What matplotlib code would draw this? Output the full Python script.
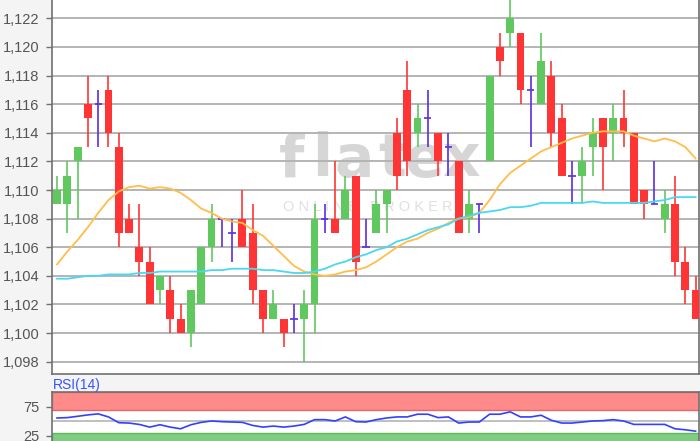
import matplotlib
matplotlib.use("Agg")
import matplotlib.pyplot as plt
from matplotlib.ticker import FuncFormatter

# candle data (EUR/USD style quotes)
opens = [1.109, 1.109, 1.112, 1.116, 1.116, 1.117, 1.113, 1.108, 1.106, 1.105,
         1.103, 1.103, 1.101, 1.100, 1.102, 1.106, 1.108, 1.107, 1.108, 1.107,
         1.103, 1.101, 1.101, 1.101, 1.101, 1.102, 1.108, 1.108, 1.108, 1.111,
         1.106, 1.107, 1.109, 1.114, 1.117, 1.114, 1.115, 1.114, 1.113, 1.112,
         1.108, 1.109, 1.112, 1.120, 1.121, 1.121, 1.117, 1.116, 1.118, 1.115,
         1.111, 1.111, 1.113, 1.115, 1.114, 1.115, 1.114, 1.110, 1.109, 1.108,
         1.109, 1.105, 1.103]
highs = [1.111, 1.112, 1.113, 1.118, 1.117, 1.118, 1.114, 1.109, 1.109, 1.106,
         1.104, 1.104, 1.102, 1.103, 1.106, 1.109, 1.108, 1.108, 1.110, 1.109,
         1.103, 1.103, 1.101, 1.102, 1.103, 1.109, 1.109, 1.112, 1.111, 1.111,
         1.108, 1.110, 1.110, 1.115, 1.119, 1.116, 1.117, 1.114, 1.114, 1.112,
         1.110, 1.109, 1.118, 1.121, 1.1235, 1.121, 1.118, 1.121, 1.119, 1.116,
         1.112, 1.113, 1.115, 1.115, 1.116, 1.117, 1.114, 1.110, 1.112, 1.110,
         1.111, 1.106, 1.104]
lows = [1.109, 1.107, 1.108, 1.113, 1.113, 1.113, 1.106, 1.107, 1.104, 1.102,
        1.102, 1.100, 1.100, 1.099, 1.102, 1.105, 1.106, 1.105, 1.106, 1.102,
        1.100, 1.101, 1.099, 1.100, 1.098, 1.100, 1.107, 1.107, 1.108, 1.104,
        1.106, 1.107, 1.107, 1.110, 1.111, 1.113, 1.113, 1.111, 1.111, 1.107,
        1.107, 1.107, 1.112, 1.118, 1.120, 1.116, 1.113, 1.116, 1.113, 1.111,
        1.109, 1.109, 1.111, 1.110, 1.112, 1.113, 1.109, 1.108, 1.109, 1.107,
        1.104, 1.102, 1.101]
closes = [1.110, 1.111, 1.113, 1.115, 1.116, 1.114, 1.107, 1.107, 1.105, 1.102,
          1.104, 1.101, 1.100, 1.103, 1.106, 1.108, 1.108, 1.107, 1.106, 1.103,
          1.101, 1.102, 1.100, 1.101, 1.102, 1.108, 1.108, 1.107, 1.110, 1.105,
          1.106, 1.109, 1.110, 1.111, 1.112, 1.115, 1.115, 1.112, 1.113, 1.107,
          1.109, 1.109, 1.118, 1.119, 1.122, 1.117, 1.117, 1.119, 1.114, 1.111,
          1.111, 1.112, 1.114, 1.113, 1.115, 1.114, 1.109, 1.109, 1.109, 1.109,
          1.105, 1.103, 1.101]

# moving averages
ma_fast = [1.1048, 1.1057, 1.1065, 1.1074, 1.1084, 1.1093, 1.1099, 1.1102, 1.1103, 1.1101,
           1.1102, 1.1101, 1.1098, 1.1093, 1.1087, 1.1084, 1.1080, 1.1078, 1.1077, 1.1072,
           1.1068, 1.1061, 1.1054, 1.1047, 1.1043, 1.1041, 1.1040, 1.1041, 1.1043, 1.1044,
           1.1046, 1.1050, 1.1055, 1.1060, 1.1064, 1.1066, 1.1070, 1.1073, 1.1077, 1.1080,
           1.1081, 1.1084, 1.1093, 1.1104, 1.1112, 1.1117, 1.1122, 1.1127, 1.1130, 1.1133,
           1.1136, 1.1138, 1.1140, 1.1141, 1.1141, 1.1141, 1.1138, 1.1136, 1.1134, 1.1136,
           1.1134, 1.1130, 1.1122]
ma_slow = [1.1038, 1.1038, 1.1039, 1.1040, 1.1040, 1.1041, 1.1041, 1.1041, 1.1042, 1.1042,
           1.1043, 1.1043, 1.1043, 1.1043, 1.1043, 1.1044, 1.1044, 1.1045, 1.1045, 1.1045,
           1.1044, 1.1044, 1.1043, 1.1042, 1.1042, 1.1043, 1.1045, 1.1048, 1.1050, 1.1053,
           1.1055, 1.1058, 1.1060, 1.1064, 1.1066, 1.1069, 1.1072, 1.1074, 1.1076, 1.1080,
           1.1082, 1.1084, 1.1085, 1.1086, 1.1088, 1.1088, 1.1089, 1.1091, 1.1091, 1.1091,
           1.1091, 1.1091, 1.1092, 1.1091, 1.1091, 1.1091, 1.1091, 1.1091, 1.1092, 1.1093,
           1.1095, 1.1095, 1.1095]

rsi = [55.8, 56.4, 58.7, 61.1, 62.9, 57.6, 47.6, 47.0, 44.6, 40.0,
       44.1, 40.0, 37.1, 44.1, 48.2, 50.6, 49.4, 48.8, 48.2, 42.9,
       40.0, 41.8, 40.0, 41.8, 44.7, 52.9, 52.9, 50.6, 57.6, 49.4,
       48.8, 52.9, 55.8, 57.6, 57.6, 62.3, 62.3, 56.4, 57.6, 47.0,
       48.8, 48.8, 62.3, 62.3, 66.4, 57.6, 57.6, 60.5, 51.8, 47.0,
       47.0, 48.8, 50.6, 51.2, 52.9, 50.6, 44.7, 44.7, 44.7, 44.7,
       37.1, 35.4, 33.0]

yticks_main = [1.098, 1.100, 1.102, 1.104, 1.106, 1.108, 1.110, 1.112, 1.114, 1.116, 1.118, 1.120, 1.122]
rsi_ticks = [25, 75]

UP = "#5fc85f"
DOWN = "#ff3535"
DOJI = "#5a2ee0"
GRID = "#b4b4b4"
SPINE = "#707070"
LABEL = "#555555"

plt.rcParams["font.family"] = ["Liberation Sans", "DejaVu Sans"]

fig = plt.figure(figsize=(7, 4.41), dpi=100, facecolor="#f4f4f4")
W, H = 700.0, 441.0
ax = fig.add_axes([52 / W, 1 - 374 / H, 646.5 / W, 374 / H])
ax.set_facecolor("white")

n = len(opens)
xs = list(range(n))
bw = 0.76

for i in xs:
    o, h, l, c = opens[i], highs[i], lows[i], closes[i]
    if abs(c - o) < 1e-9:
        col = DOJI
        ax.vlines(i, l, h, color=col, lw=1.2, zorder=3)
        ax.hlines(o, i - 0.35, i + 0.35, color=col, lw=1.2, zorder=3)
        continue
    col = UP if c > o else DOWN
    ax.vlines(i, l, h, color=col, lw=1.2, zorder=3)
    ax.bar(i, abs(c - o), bottom=min(o, c), width=bw, color=col, lw=0, zorder=3)

ax.plot(xs, ma_fast, color="#ffbe4a", lw=1.3, zorder=4)
ax.plot(xs, ma_slow, color="#4ad8f0", lw=1.3, zorder=4)

ax.set_xlim(-0.485, 62.28)
ax.set_ylim(1.09714, 1.12328)
ax.set_yticks(yticks_main)
ax.yaxis.set_major_formatter(FuncFormatter(lambda v, p: f"{v:.3f}".replace(".", ",")))
ax.grid(axis="y", color=GRID, lw=1.4, zorder=0)
ax.set_axisbelow(True)
ax.set_xticks([])
ax.tick_params(axis="y", length=4, width=1, color=SPINE, labelsize=10.5, labelcolor=LABEL, pad=5)
ax.spines["top"].set_visible(False)
for s in ["left", "bottom", "right"]:
    ax.spines[s].set_color(SPINE)
    ax.spines[s].set_linewidth(1.2)

# watermark, behind the candles
wm_letters = ["f", "l", "a", "t", "e", "x"]
wm_x = [292, 322, 354, 392, 424, 461]
for ch, px in zip(wm_letters, wm_x):
    ax.text(px / W, 1 - 160 / H, ch, transform=fig.transFigure, fontsize=42, color="#d6d6d6",
            weight="bold", ha="center", va="center", family="DejaVu Sans", zorder=0.4)
ax.text(368 / W, 1 - 207 / H, "O N L I N E   B R O K E R", transform=fig.transFigure,
        fontsize=10.5, color="#e0e0e0", ha="center", va="center", zorder=0.4)

# RSI panel
rx = fig.add_axes([52 / W, 0, 646.5 / W, (H - 392.4) / H])
rx.set_facecolor("white")
rx.axhspan(70, 100, facecolor="#ff8a8a", edgecolor="#e06a6a", lw=1.0, zorder=1)
rx.axhspan(0, 30, facecolor="#80cc80", edgecolor="#5eb85e", lw=1.0, zorder=1)
rx.axhline(50, color=GRID, lw=1.2, zorder=1)
rx.plot(xs, rsi, color="#3340ff", lw=1.2, zorder=3)
rx.set_xlim(-0.485, 62.28)
rx.set_ylim(16, 100)
rx.set_yticks(rsi_ticks)
rx.set_xticks([])
rx.tick_params(axis="y", length=4, width=1, color=SPINE, labelsize=10.5, labelcolor=LABEL, pad=5)
rx.spines["bottom"].set_visible(False)
for s in ["left", "top", "right"]:
    rx.spines[s].set_color(SPINE)
    rx.spines[s].set_linewidth(1.2)
fig.text(53 / W, 1 - 385 / H, "RSI(14)", fontsize=10, color="#3355ff", ha="left", va="center")

fig.savefig("out.png", dpi=100, facecolor=fig.get_facecolor())
